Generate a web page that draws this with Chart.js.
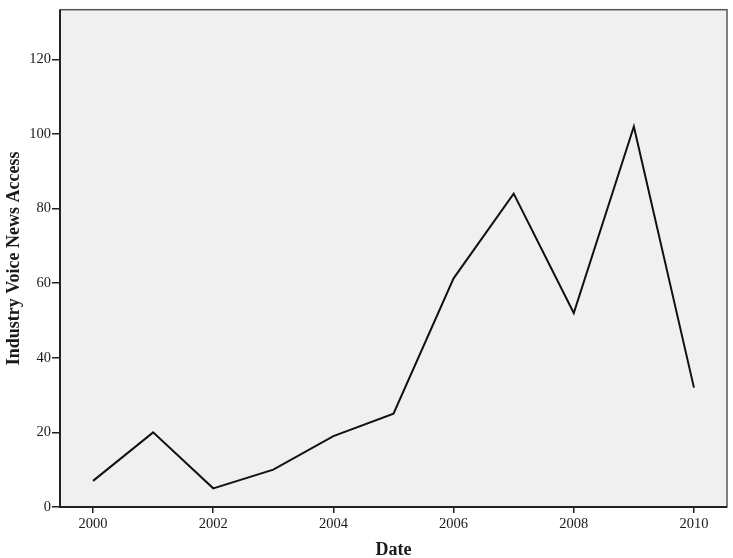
<!DOCTYPE html>
<html>
<head>
<meta charset="utf-8">
<script src="https://cdn.jsdelivr.net/npm/chart.js@4"></script>
<style>
html,body{margin:0;padding:0;background:#fff;}
#wrap{width:733px;height:558px;}
</style>
</head>
<body>
<div id="wrap"><canvas id="c" width="733" height="558"></canvas></div>
<script>
const years = [2000, 2001, 2002, 2003, 2004, 2005, 2006, 2007, 2008, 2009, 2010];
const access = [7, 20, 5, 10, 19, 25, 61.3, 84, 52, 102, 32];
const xTicks = [2000, 2002, 2004, 2006, 2008, 2010];
const yTicks = [0, 20, 40, 60, 80, 100, 120];

const SERIF = '"Liberation Serif", "Times New Roman", serif';

const frame = {
  id: 'frame',
  beforeDatasetsDraw(chart) {
    const {ctx, chartArea: a} = chart;
    ctx.save();
    ctx.fillStyle = '#f0f0f0';
    ctx.fillRect(a.left, a.top, a.right - a.left, a.bottom - a.top);
    ctx.restore();
  },
  afterDatasetsDraw(chart) {
    const {ctx, chartArea: a} = chart;
    ctx.save();
    ctx.strokeStyle = '#555';
    ctx.lineWidth = 1.5;
    ctx.strokeRect(a.left, a.top, a.right - a.left, a.bottom - a.top);
    ctx.strokeStyle = '#222';
    ctx.lineWidth = 2;
    ctx.beginPath();
    ctx.moveTo(a.left, a.top); ctx.lineTo(a.left, a.bottom); ctx.lineTo(a.right, a.bottom);
    ctx.stroke();
    ctx.restore();
  }
};

new Chart(document.getElementById('c'), {
  type: 'line',
  data: {
    datasets: [{
      data: years.map((y, i) => ({x: y, y: access[i]})),
      borderColor: '#111',
      borderWidth: 2,
      pointRadius: 0,
      tension: 0,
      fill: false
    }]
  },
  options: {
    responsive: false,
    animation: false,
    events: [],
    layout: {padding: {top: 5, right: 6, left: 0, bottom: 0}},
    plugins: {legend: {display: false}, tooltip: {enabled: false}},
    scales: {
      x: {
        type: 'linear',
        min: 1999.45,
        max: 2010.55,
        afterBuildTicks: s => { s.ticks = xTicks.map(v => ({value: v})); },
        afterFit: s => { s.height = 51; },
        border: {display: false},
        grid: {drawOnChartArea: false, drawTicks: true, tickLength: 6, color: '#222', lineWidth: 1.5},
        ticks: {
          color: '#1a1a1a', padding: 2, maxRotation: 0,
          font: {family: SERIF, size: 14.5},
          callback: v => String(v)
        },
        title: {
          display: true, text: 'Date', color: '#1a1a1a',
          font: {family: SERIF, size: 18, weight: 'bold', lineHeight: 0.9},
          padding: {top: 3, bottom: 0}
        }
      },
      y: {
        type: 'linear',
        min: 0,
        max: 133.3,
        afterBuildTicks: s => { s.ticks = yTicks.map(v => ({value: v})); },
        afterFit: s => { s.width = 60; },
        border: {display: false},
        grid: {drawOnChartArea: false, drawTicks: true, tickLength: 8, color: '#222', lineWidth: 1.5},
        ticks: {
          color: '#1a1a1a', padding: 1,
          font: {family: SERIF, size: 14.5},
          callback: v => String(v)
        },
        title: {
          display: true, text: 'Industry Voice News Access', color: '#1a1a1a',
          font: {family: SERIF, size: 18, weight: 'bold'},
          padding: {top: 4, bottom: 0}
        }
      }
    }
  },
  plugins: [frame]
});
</script>
</body>
</html>
